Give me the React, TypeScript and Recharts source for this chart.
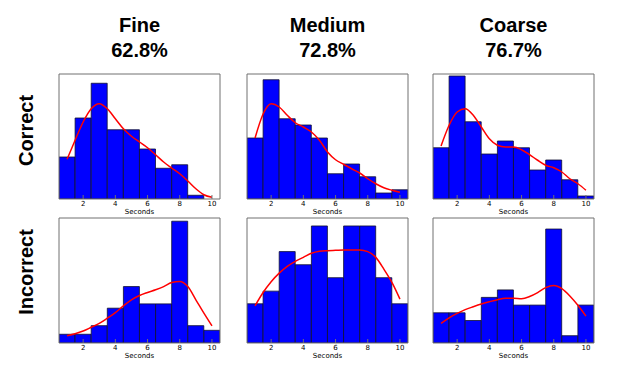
import React from "react";
import { Bar, ComposedChart, Line, XAxis, YAxis } from "recharts";

// histogram bins (seconds) and the points where the smoothed curve was read
const BINS = [1, 2, 3, 4, 5, 6, 7, 8, 9, 10];
const KDE_X = [1, 1.5, 2, 2.5, 3, 3.5, 4, 4.5, 5, 5.5, 6, 6.5, 7, 7.5, 8, 8.5, 9, 9.5, 10];
const X_TICKS = [2, 4, 6, 8, 10];

const COLUMN_TITLES = ["Fine", "Medium", "Coarse"];
const COLUMN_SCORES = ["62.8%", "72.8%", "76.7%"];
const ROW_TITLES = ["Correct", "Incorrect"];

// values in y-tick units (the y axis has no labels)
const fineCorrect = [1.68, 3.24, 4.63, 2.77, 2.77, 2.0, 1.23, 1.37, 0.15, 0];
const fineCorrectKde = [1.59, 2.35, 3.08, 3.61, 3.81, 3.61, 3.21, 2.81, 2.51, 2.28, 2.05, 1.77, 1.48, 1.24, 1.01, 0.72, 0.41, 0.17, 0.07];
const mediumCorrect = [2.44, 4.77, 3.21, 2.96, 2.44, 1.01, 1.4, 0.89, 0.24, 0.37];
const mediumCorrectKde = [2.44, 3.4, 3.81, 3.68, 3.35, 3.05, 2.88, 2.68, 2.35, 1.88, 1.57, 1.39, 1.21, 1.04, 0.81, 0.61, 0.45, 0.35, 0.27];
const coarseCorrect = [2.05, 4.92, 3.09, 1.8, 2.32, 2.05, 1.16, 1.56, 0.77, 0.12];
const coarseCorrectKde = [2.12, 2.95, 3.48, 3.61, 3.35, 2.88, 2.41, 2.15, 2.08, 2.08, 1.97, 1.77, 1.55, 1.35, 1.25, 1.08, 0.81, 0.61, 0.35];

const fineIncorrect = [0.49, 0.49, 0.97, 1.95, 3.16, 2.19, 2.19, 6.82, 0.97, 0.71];
const fineIncorrectKde = [0.41, 0.52, 0.67, 0.88, 1.1, 1.39, 1.7, 2.08, 2.42, 2.66, 2.83, 2.98, 3.16, 3.39, 3.45, 3.16, 2.42, 1.67, 0.96];
const mediumIncorrect = [2.51, 3.32, 5.85, 5.01, 7.49, 4.18, 7.49, 7.49, 4.18, 2.51];
const mediumIncorrectKde = [2.38, 3.23, 3.92, 4.47, 4.9, 5.22, 5.48, 5.74, 5.87, 5.91, 5.93, 5.95, 5.95, 5.95, 5.85, 5.48, 4.73, 3.88, 2.81];
const coarseIncorrect = [1.45, 1.45, 1.08, 2.19, 2.55, 1.82, 1.82, 5.47, 0.35, 1.82];
const coarseIncorrectKde = [0.94, 1.21, 1.42, 1.6, 1.74, 1.87, 1.98, 2.08, 2.15, 2.15, 2.13, 2.23, 2.42, 2.66, 2.76, 2.61, 2.26, 1.81, 1.29];

const PLOT_W = 161;
const PLOT_H = 125;
const PAD = 3; // chart margin 2 + axis width 1
const AXIS_H = 22;
const FRAME = "#707070";

const COL_LEFT = [59, 247, 433];
const ROW_TOP = [74, 218];

const PANELS = [
  { col: 0, row: 0, bars: fineCorrect, kde: fineCorrectKde, yMax: 5 },
  { col: 1, row: 0, bars: mediumCorrect, kde: mediumCorrectKde, yMax: 5 },
  { col: 2, row: 0, bars: coarseCorrect, kde: coarseCorrectKde, yMax: 5 },
  { col: 0, row: 1, bars: fineIncorrect, kde: fineIncorrectKde, yMax: 7 },
  { col: 1, row: 1, bars: mediumIncorrect, kde: mediumIncorrectKde, yMax: 8 },
  { col: 2, row: 1, bars: coarseIncorrect, kde: coarseIncorrectKde, yMax: 6 },
];

const tickFont = { fontSize: 7, fill: "#000", fontFamily: "DejaVu Sans" };

function Panel({ left, top, bars, kde, yMax }: { left: number; top: number; bars: number[]; kde: number[]; yMax: number }) {
  const barData = BINS.map((x, i) => ({ x, count: bars[i] }));
  const kdeData = KDE_X.map((x, i) => ({ x, density: kde[i] }));
  const yTicks = Array.from({ length: yMax + 1 }, (_, i) => i);
  return (
    <div style={{ position: "absolute", left: left - PAD, top: top - PAD }}>
      <ComposedChart
        width={PLOT_W + 2 * PAD}
        height={PLOT_H + PAD + AXIS_H}
        data={barData}
        margin={{ top: 2, right: 2, bottom: 0, left: 2 }}
        barCategoryGap={0}
        barGap={0}
      >
        <XAxis
          dataKey="x"
          type="number"
          domain={[0.5, 10.5]}
          allowDataOverflow
          ticks={X_TICKS}
          interval={0}
          height={AXIS_H}
          tickSize={-4}
          tickMargin={6.5}
          stroke={FRAME}
          tick={tickFont}
          label={{ value: "Seconds", position: "insideBottom", offset: 7, style: { ...tickFont } }}
        />
        <XAxis
          xAxisId="t"
          orientation="top"
          dataKey="x"
          type="number"
          domain={[0.5, 10.5]}
          allowDataOverflow
          ticks={X_TICKS}
          interval={0}
          height={1}
          tickSize={-4}
          stroke={FRAME}
          tick={false}
        />
        <YAxis type="number" domain={[0, yMax]} allowDataOverflow ticks={yTicks} interval={0} width={1} tickSize={-4} stroke={FRAME} tick={false} />
        <YAxis yAxisId="r" orientation="right" type="number" domain={[0, yMax]} allowDataOverflow ticks={yTicks} interval={0} width={1} tickSize={-4} stroke={FRAME} tick={false} />
        <Bar dataKey="count" fill="#0000ff" stroke="#101030" strokeWidth={0.8} isAnimationActive={false} />
        <Line
          xAxisId="t"
          data={kdeData}
          dataKey="density"
          type="monotone"
          stroke="#ff0000"
          strokeWidth={1.5}
          dot={false}
          activeDot={false}
          isAnimationActive={false}
        />
      </ComposedChart>
    </div>
  );
}

export default function App() {
  const headFont = { fontFamily: "Liberation Sans, Arial, sans-serif", fontWeight: 700, fontSize: 20, fill: "#000" };
  return (
    <div style={{ position: "absolute", left: 0, top: 0, width: 623, height: 367, background: "#fff", overflow: "hidden" }}>
      <svg width={623} height={367} style={{ position: "absolute", left: 0, top: 0 }}>
        {COLUMN_TITLES.map((t, i) => (
          <g key={t}>
            <text x={COL_LEFT[i] + PLOT_W / 2} y={32} textAnchor="middle" {...headFont}>{t}</text>
            <text x={COL_LEFT[i] + PLOT_W / 2} y={57} textAnchor="middle" {...headFont}>{COLUMN_SCORES[i]}</text>
          </g>
        ))}
        {ROW_TITLES.map((t, i) => {
          const cy = i === 0 ? 130.5 : 272;
          return (
            <text key={t} x={0} y={0} transform={`translate(32.5 ${cy}) rotate(-90)`} textAnchor="middle" {...headFont}>{t}</text>
          );
        })}
      </svg>
      {PANELS.map((p, i) => (
        <Panel key={i} left={COL_LEFT[p.col]} top={ROW_TOP[p.row]} bars={p.bars} kde={p.kde} yMax={p.yMax} />
      ))}
    </div>
  );
}
